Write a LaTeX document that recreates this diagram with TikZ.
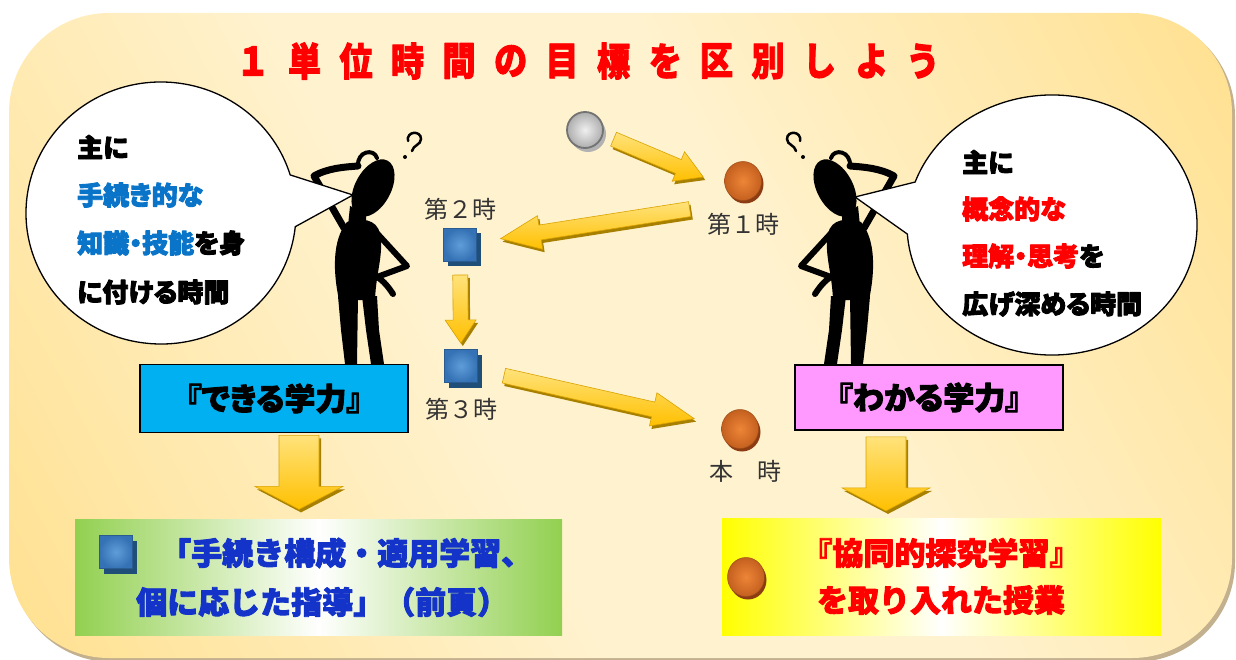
\documentclass[tikz,border=0pt]{standalone}
\usepackage{fontspec}
\usetikzlibrary{calc,positioning,shapes.geometric,shadows}

\newfontfamily\jpfont{Noto Sans CJK JP}
\newfontfamily\popfont[RawFeature=+palt]{Noto Sans CJK JP}

% thicker strokes for the poster lettering (fill and stroke the glyphs)
\newcommand{\heavy}[1]{\special{pdf:code q 2 Tr 0.9 w 1 j}#1\special{pdf:code Q}}

\definecolor{panelcream}{HTML}{FFF2CE}
\definecolor{panelmid}{HTML}{FFE6A4}
\definecolor{panelgold}{HTML}{FFD462}
\definecolor{panelshadow}{HTML}{C2B08E}
\definecolor{titlered}{HTML}{FF0000}
\definecolor{tipblue}{HTML}{0A74C8}
\definecolor{arrowgold}{HTML}{FFC000}
\definecolor{arrowlight}{HTML}{FFE27A}
\definecolor{arrowshade}{HTML}{A88000}
\definecolor{ballhi}{HTML}{EE8537}
\definecolor{balllo}{HTML}{C4601F}
\definecolor{ballsh}{HTML}{8C3B12}
\definecolor{sqhi}{HTML}{5E9DD9}
\definecolor{sqlo}{HTML}{3572B5}
\definecolor{sqsh}{HTML}{1F4E79}
\definecolor{canblue}{HTML}{00B0F0}
\definecolor{getpink}{HTML}{FF99FF}
\definecolor{leafgreen}{HTML}{92D050}
\definecolor{lemon}{HTML}{FFFF00}
\definecolor{inkblue}{HTML}{1433C8}
\definecolor{labelgrey}{HTML}{333333}

\pgfdeclareverticalshading{panelsweep}{100bp}{%
  color(0bp)=(panelgold); color(24bp)=(panelmid); color(42bp)=(panelcream);
  color(58bp)=(panelcream); color(76bp)=(panelmid); color(100bp)=(panelgold)}

\tikzset{
  limb/.style={line width=7, line cap=round, line join=round},
  arrowbody/.style={top color=arrowlight, bottom color=arrowgold,
    draw=arrowgold!85!black, line width=0.6,
    drop shadow={shadow xshift=2pt, shadow yshift=-3pt, fill=arrowshade, opacity=1}},
  bubble/.style={fill=white, draw=black, line width=1.3}
}

% block arrow between two points: from, to, shaft half width, head half width, head length
\newcommand{\blockarrow}[5]{%
  \coordinate (bas) at (#1);
  \coordinate (bae) at (#2);
  \coordinate (bah) at ($(bae)!#5!(bas)$);
  \path[arrowbody]
    ($(bas)!#3!90:(bae)$) -- ($(bah)!#3!-90:(bas)$) -- ($(bah)!#4!-90:(bas)$) -- (bae)
    -- ($(bah)!#4!90:(bas)$) -- ($(bah)!#3!90:(bas)$) -- ($(bas)!#3!-90:(bae)$) -- cycle;
}

% puzzled little man, facing right
\newcommand{\thinker}{%
  \fill[rotate around={-28:(373,188)}] (373,188) ellipse [x radius=18, y radius=31];
  \fill (350,206) -- (366,214) -- (366,228) -- (348,226) -- cycle;
  \fill (347,222) .. controls (360,218) and (377,218) .. (380,234)
        .. controls (384,254) and (376,272) .. (375,300)
        -- (339,300) .. controls (333,272) and (332,240) .. cycle;
  \draw[limb] (344,228) -- (314,176) .. controls (328,168) and (345,167) .. (358,166);
  \draw[limb, line width=4] (358,166) .. controls (357,151) and (374,148) .. (377,158);
  \draw[limb, line width=6] (374,230) -- (407,266) -- (377,277)
        .. controls (384,281) and (389,288) .. (393,294);
  \fill (338,296) -- (358,296) -- (357,364) -- (345,364) -- (341,330) -- cycle;
  \fill (362,296) -- (377,296) -- (379,330) -- (384,364) -- (371,364) -- (366,330) -- cycle;
  \draw[line width=2.5, line cap=round] (408,141) .. controls (406,131) and (421,130) .. (421,139)
        .. controls (421,145) and (413,145) .. (412,151);
  \fill (405,157) circle [radius=2];
}

\begin{document}
\begin{tikzpicture}[x=1pt, y=-1pt,
  ball/.style={ellipse, minimum width=37, minimum height=39, inner sep=0,
    inner color=ballhi, outer color=balllo, draw=balllo!80!black, line width=0.5,
    drop shadow={shadow xshift=2pt, shadow yshift=-3pt, fill=ballsh, opacity=1}},
  greyball/.style={circle, minimum size=36, inner sep=0,
    inner color=black!6, outer color=black!32, draw=black!55, line width=1.8,
    drop shadow={shadow xshift=3pt, shadow yshift=-4pt, fill=black!30, opacity=1}},
  tile/.style={rectangle, minimum size=33, inner sep=0,
    inner color=sqhi, outer color=sqlo, draw=sqlo!80!black, line width=0.5,
    drop shadow={shadow xshift=4pt, shadow yshift=-5pt, fill=sqsh, opacity=1}},
  tag/.style={font=\jpfont\fontsize{24}{24}\selectfont, text=labelgrey, inner sep=0},
  titlechar/.style={font=\popfont\bfseries\fontsize{39}{39}\selectfont, text=titlered,
    inner sep=0, xscale=0.85, transform shape},
  saying/.style={font=\popfont\bfseries\fontsize{26}{26}\selectfont, anchor=west, inner sep=0},
  ability/.style={draw=black, line width=1.8, minimum width=268, minimum height=68,
    inner sep=0, font=\popfont\bfseries\fontsize{31}{31}\selectfont},
  plan/.style={inner sep=0},
  plantext/.style={font=\jpfont\bfseries\fontsize{31}{31}\selectfont, inner sep=0}
]
\useasboundingbox (0,0) rectangle (1236,660);

% panel
\fill[panelshadow, rounded corners=100] (12,16) rectangle (1235,662);
\shade[shading=panelsweep, shading angle=-62, rounded corners=100]
  (9,13) rectangle (1232,658);

% title
\foreach \ch [count=\i from 0] in {１,単,位,時,間,の,目,標,を,区,別,し,よ,う}
  \node[titlechar] (t\i) at (253+51.5*\i,61) {\heavy{\ch}};

% lessons
\node[greyball] (grey) at (585,130) {};
\node[ball] (b1) at (743,181) {};
\node[tile] (sq1) at (460,245) {};
\node[tile] (sq2) at (461,366) {};
\node[ball] (now) at (740,429) {};

\node[tag, below=12pt of b1] (l1) {第１時};
\node[tag, above=8pt of sq1] (l2) {第２時};
\node[tag, below=15pt of sq2] (l3) {第３時};
\node[tag, below=11pt of now, xshift=5pt] (l0) {本　時};

\blockarrow{$(grey)!30pt!(b1)$}{$(b1.west)+(-21,-4)$}{7.5pt}{16pt}{27pt}
\blockarrow{$(b1.south)!54pt!(sq1)$}{$(sq1)!41pt!(b1.south)$}{7.5pt}{17pt}{40pt}
\blockarrow{$(sq1)!30pt!(sq2)$}{$(sq2)!23pt!(sq1)$}{7.5pt}{15.5pt}{23pt}
\blockarrow{$(sq2)!44pt!(now)$}{$(now)!47pt!(sq2)$}{7.5pt}{17pt}{42pt}

% the two thinkers
\thinker
\begin{scope}[shift={(1208,0)}, xscale=-1]
  \thinker
\end{scope}

% speech bubbles
\filldraw[bubble] (353,195) -- ([shift={(161,213)}]6:135 and 131)
  arc[start angle=6, end angle=343.1, x radius=135, y radius=131] -- cycle;
\filldraw[bubble] (855,197) -- ([shift={(1052,225)}]199.3:145 and 130)
  arc[start angle=199.3, end angle=536, x radius=145, y radius=130] -- cycle;

\node[saying] (lq1) at (77,147) {\heavy{主に}};
\node[saying, text=tipblue] (lq2) at (77,195) {\heavy{手続き的な}};
\node[saying] (lq3) at (77,243) {\heavy{\textcolor{tipblue}{知識・技能}を身}};
\node[saying] (lq4) at (77,292) {\heavy{に付ける時間}};

\node[saying] (rq1) at (962,162) {\heavy{主に}};
\node[saying, text=titlered] (rq2) at (962,209) {\heavy{概念的な}};
\node[saying] (rq3) at (962,256) {\heavy{\textcolor{titlered}{理解・思考}を}};
\node[saying] (rq4) at (962,304) {\heavy{広げ深める時間}};

% the two kinds of ability
\node[ability, fill=canblue] (lbox) at (274,398.5) {\heavy{『できる学力』}};
\node[ability, fill=getpink, minimum height=65] (rbox) at (929,397.5) {\heavy{『わかる学力』}};

\blockarrow{$(lbox.south)+(25,2)$}{$(lbox.south)+(25,76)$}{20pt}{44pt}{23pt}
\blockarrow{$(rbox.south)+(-43,6)$}{$(rbox.south)+(-43,80)$}{20pt}{44pt}{23pt}

% lesson types
\node[plan, left color=leafgreen, right color=leafgreen, middle color=white,
  minimum width=487, minimum height=116] (gbox) at (318.5,577) {};
\node[tile] (gsq) at (116,552) {};
\node[plantext, text=inkblue, anchor=west] (g1) at (160,553) {\heavy{「手続き構成・適用学習、}};
\node[plantext, text=inkblue, anchor=west] (g2) at (136,602) {\heavy{個に応じた指導」（前頁）}};

\node[plan, left color=lemon, right color=lemon, middle color=white,
  minimum width=439, minimum height=117] (ybox) at (941.5,576.5) {};
\node[ball] (ysb) at (746,577) {};
\node[plantext, text=titlered] (y1) at (941,553) {\heavy{『協同的探究学習』}};
\node[plantext, text=titlered] (y2) at (941,600) {\heavy{を取り入れた授業}};
\end{tikzpicture}
\end{document}
